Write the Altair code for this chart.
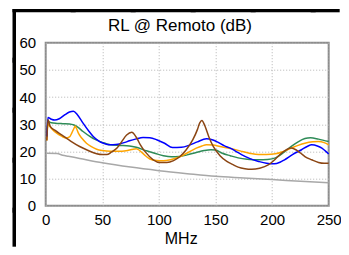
import altair as alt
import pandas as pd

# ---- data ----
gray_f = [1, 10, 15, 20, 30, 50, 75, 100, 125, 150, 175, 200, 225, 250]
gray_v = [19.3, 19.2, 18.6, 18.2, 17.4, 15.8, 14.2, 12.9, 11.8, 10.8, 10.2, 9.6, 9.0, 8.4]

green_f = [1, 2, 5, 10, 15, 21, 25, 28, 33, 39, 44, 48, 53, 57, 65, 74, 80, 89, 97, 104,
           111, 118, 125, 133, 140, 146, 150, 156, 163, 170, 178, 188, 196, 203, 210, 217,
           223, 229, 234, 241, 250]
green_v = [25.5, 31, 30.5, 30.3, 30.2, 30.1, 29.7, 29, 27.3, 25.5, 24.3, 23.6, 22.9, 22.4,
           22.2, 22, 21.5, 20.2, 19.2, 18.4, 18, 18.1, 18.7, 19.6, 20.3, 20.6, 20.5, 19.3,
           18.4, 17.6, 17.1, 16.9, 17, 17.6, 19.5, 21.8, 23.5, 24.7, 25, 24.5, 23.6]

orange_f = [1, 2, 4, 7, 10, 14, 18, 21, 23, 25, 26, 27, 29, 32, 36, 40, 45, 50, 57, 64, 71,
            76, 80, 83, 87, 92, 98, 104, 111, 118, 125, 133, 138, 142, 148, 154, 160, 166,
            173, 180, 188, 195, 203, 210, 217, 223, 229, 236, 241, 246, 250]
orange_v = [24, 30, 29, 27.6, 26.6, 25.6, 24.9, 25.3, 26.7, 28.5, 29.3, 28.6, 26.6, 24.8,
            23, 21.8, 20.8, 20.3, 20, 20, 20.2, 20.7, 21, 20.3, 18.8, 17.2, 16.6, 16.5, 17,
            17.9, 19.4, 21.2, 22, 22.4, 22.3, 21.8, 21.3, 20.8, 20, 19.3, 18.8, 18.8, 19.1,
            20, 21.2, 22.2, 23, 23.5, 23.6, 23.2, 22.4]

blue_f = [1, 2, 5, 8, 12, 17, 21, 24.5, 28, 33, 38, 42, 47, 51, 57, 62, 66, 70, 74, 80, 86,
          92, 98, 105, 112, 120, 127, 134, 142, 147, 151, 158, 163, 168, 173, 180, 188, 195,
          202, 207, 211, 218, 226, 231, 235, 240, 244, 248, 250]
blue_v = [25.5, 32.5, 31.8, 31.5, 32, 33.5, 34.5, 34.8, 33.5, 30.4, 27.5, 25.5, 23.8, 23,
          22.4, 22.5, 22.8, 23.3, 23.9, 24.6, 25.1, 25, 24.3, 23, 21.4, 21.5, 22.3, 23.5,
          24.6, 24.3, 23.6, 22, 21.2, 20, 18.8, 17.4, 16.3, 15.6, 15.4, 16, 16.9, 18.8,
          20.6, 21.8, 22.4, 22, 21.2, 19.8, 19]

brown_f = [1, 2, 4, 8, 12, 16, 22, 30, 37, 45, 50, 54, 58, 63, 67, 71.5, 76, 80, 83.5, 88,
           95, 101, 107, 113, 118.6, 124, 130, 134, 136, 138, 140.5, 144, 148, 154, 160,
           165, 170, 176, 182, 189, 196.6, 203, 208.5, 213, 217, 221, 225, 229, 235, 241,
           246, 250]
brown_v = [24, 31.6, 29.2, 27.8, 26.6, 25.5, 23.8, 21.8, 20.4, 19.1, 18.8, 18.8, 19.7, 21.2,
           23.5, 26, 27, 25.2, 22.5, 19.8, 16.9, 15.9, 15.9, 16.6, 18.1, 20.5, 24.3, 28,
           30.4, 31.4, 29.5, 25.5, 21.8, 18.4, 16.3, 15.2, 14.2, 13.6, 13.4, 13.8, 15, 17.2,
           19.4, 20.7, 21.2, 20.6, 19.4, 18.1, 16.9, 15.9, 15.6, 15.6]

series_names = ["gray", "green", "orange", "blue", "brown"]
series_colors = ["#a8a8a8", "#2e8b57", "#ffa500", "#0000ff", "#8b4513"]
x_ticks = [0, 50, 100, 150, 200, 250]
y_ticks = [0, 10, 20, 30, 40, 50, 60]
title_text = "RL @ Remoto (dB)"

rows = []
for name, fs, vs in [("gray", gray_f, gray_v), ("green", green_f, green_v),
                     ("orange", orange_f, orange_v), ("blue", blue_f, blue_v),
                     ("brown", brown_f, brown_v)]:
    for f, v in zip(fs, vs):
        rows.append({"s": name, "f": f, "v": v, "o": series_names.index(name)})
df = pd.DataFrame(rows)

FONT = "Liberation Sans"

lines = alt.Chart(df).mark_line(strokeWidth=1.5, interpolate="monotone").encode(
    x=alt.X("f:Q", scale=alt.Scale(domain=[0, 250], nice=False),
            axis=alt.Axis(values=x_ticks, title="MHz", grid=True, ticks=False, domain=False,
                          labelFontSize=15, labelPadding=7, labelColor="black",
                          titleFontSize=16, titleFontWeight="normal", titleColor="black",
                          titleX=135, titleY=38, titleBaseline="alphabetic",
                          labelFlush=False)),
    y=alt.Y("v:Q", scale=alt.Scale(domain=[0, 60], nice=False),
            axis=alt.Axis(values=y_ticks, title=None, grid=True, ticks=False, domain=False,
                          labelFontSize=15, labelPadding=10, labelColor="black")),
    color=alt.Color("s:N", scale=alt.Scale(domain=series_names, range=series_colors),
                    legend=None),
    detail="s:N",
    order="o:Q",
)

one = pd.DataFrame({"t": [title_text]})


def frame_piece(x0, x1, y0, y1):
    return alt.Chart(one).mark_rect(color="#000000", clip=False).encode(
        x=alt.value(x0), x2=alt.value(x1), y=alt.value(y0), y2=alt.value(y1))


# panel frame (thick black border of the surrounding panel), built from short pieces
frame = []
for y0, y1 in [(-33.7, 20), (15, 70), (65, 120), (115, 170), (165, 204)]:
    frame.append(frame_piece(-33.2, -29.7, y0, y1))
for x0, x1 in [(-33.2, 30), (25, 90), (85, 150), (145, 210), (205, 270), (265, 294)]:
    frame.append(frame_piece(x0, x1, -33.7, -30.4))

title = alt.Chart(one).mark_text(fontSize=17, font=FONT, color="black", align="center",
                                 baseline="alphabetic", clip=False).encode(
    text="t:N", x=alt.value(134.3), y=alt.value(-12))

chart = alt.layer(lines, *frame, title).properties(
    width=283, height=163,
    autosize=alt.AutoSizeParams(type="none"),
    padding={"left": 37.7, "top": 34.7, "right": 12, "bottom": 41},
).configure(font=FONT).configure_view(
    stroke="#8c8c8c", strokeWidth=2
).configure_axis(
    gridColor="#b4b4b4", gridDash=[1, 2], gridWidth=1, labelFont=FONT, titleFont=FONT
)

chart.save("out.html", embed_options={"renderer": "svg", "actions": False})
